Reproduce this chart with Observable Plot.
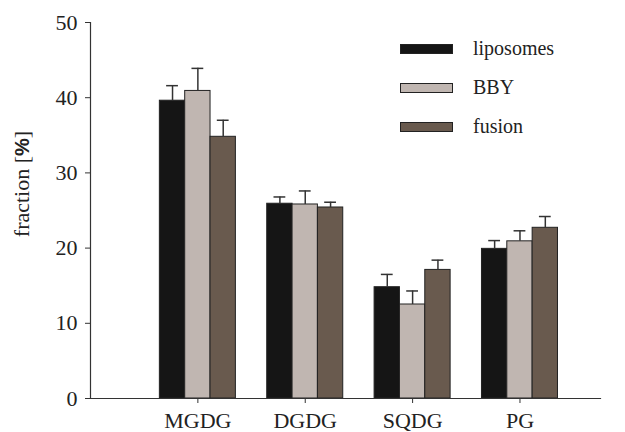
<!DOCTYPE html>
<html>
<head>
<meta charset="utf-8">
<script src="https://cdn.jsdelivr.net/npm/d3@7"></script>
<script src="https://cdn.jsdelivr.net/npm/@observablehq/plot@0.6"></script>
<style>
  html, body { margin: 0; padding: 0; background: #fff; }
  #wrap { position: relative; width: 625px; height: 432px; font-family: "Liberation Serif", "DejaVu Serif", serif; color: #222; }
  #ylabel { position: absolute; left: 22px; top: 184px; transform: translate(-50%, -50%) rotate(-90deg); font-size: 22px; white-space: nowrap; }
  #ylabel b { font-family: "Liberation Sans", Arial, sans-serif; font-weight: bold; font-size: 20px; }
  .leg { position: absolute; left: 400px; display: flex; align-items: center; font-size: 20px; }
  .sw { width: 51px; height: 8px; border: 1px solid #222; margin-right: 20px; }
</style>
</head>
<body>
<div id="wrap"></div>
<script>
const categories = ["MGDG", "DGDG", "SQDG", "PG"];
const series = ["liposomes", "BBY", "fusion"];
const colors = ["#151515", "#c0b6b1", "#695a4e"];
const liposomes = [39.6, 25.9, 14.8, 19.9];
const liposomesErr = [2.0, 0.9, 1.7, 1.1];
const bby = [40.9, 25.8, 12.5, 20.9];
const bbyErr = [3.0, 1.8, 1.8, 1.4];
const fusion = [34.8, 25.4, 17.1, 22.7];
const fusionErr = [2.2, 0.7, 1.3, 1.5];
const yTicks = [0, 10, 20, 30, 40, 50];

const values = [liposomes, bby, fusion];
const errs = [liposomesErr, bbyErr, fusionErr];
const data = [];
categories.forEach((c, i) => series.forEach((s, j) => data.push({cat: c, idx: i, s: j, series: s, value: values[j][i], err: errs[j][i]})));

const w = 0.236;
const cx = d => d.idx + (d.s - 1) * w;

const chart = Plot.plot({
  width: 625,
  height: 432,
  marginLeft: 90,
  marginRight: 25,
  marginTop: 22,
  marginBottom: 34,
  style: {fontFamily: "Liberation Serif, serif", fontSize: "22px", color: "#222", background: "#fff"},
  x: {domain: [-1, 3.75], axis: null},
  y: {domain: [0, 50], axis: null},
  color: {domain: series, range: colors},
  marks: [
    Plot.rectY(data, {x1: d => cx(d) - w / 2, x2: d => cx(d) + w / 2, y1: 0, y2: "value", fill: "series", stroke: "#222", strokeWidth: 1}),
    Plot.ruleX(data, {x: cx, y1: "value", y2: d => d.value + d.err, stroke: "#333", strokeWidth: 1.5}),
    Plot.ruleY(data, {x1: d => cx(d) - 0.055, x2: d => cx(d) + 0.055, y: d => d.value + d.err, stroke: "#333", strokeWidth: 1.5}),
    Plot.axisY({ticks: yTicks, tickSize: 5, tickPadding: 8, label: null, stroke: "#333", fill: "#222"}),
    Plot.axisX({ticks: [0, 1, 2, 3], tickFormat: i => categories[i], tickSize: 5, tickPadding: 9, label: null, stroke: "#333", fill: "#222"}),
    Plot.frame({anchor: "left", stroke: "#333", strokeWidth: 1.2}),
    Plot.frame({anchor: "bottom", stroke: "#333", strokeWidth: 1.2})
  ]
});

const wrap = document.getElementById("wrap");
wrap.appendChild(chart);

const yl = document.createElement("div");
yl.id = "ylabel";
yl.innerHTML = "fraction [<b>%</b>]";
wrap.appendChild(yl);

const legTops = [48.5, 87.5, 126.5];
series.forEach((s, j) => {
  const row = document.createElement("div");
  row.className = "leg";
  row.style.top = (legTops[j] - 12) + "px";
  row.style.height = "24px";
  const sw = document.createElement("div");
  sw.className = "sw";
  sw.style.background = colors[j];
  const t = document.createElement("span");
  t.textContent = s;
  row.appendChild(sw);
  row.appendChild(t);
  wrap.appendChild(row);
});
</script>
</body>
</html>
